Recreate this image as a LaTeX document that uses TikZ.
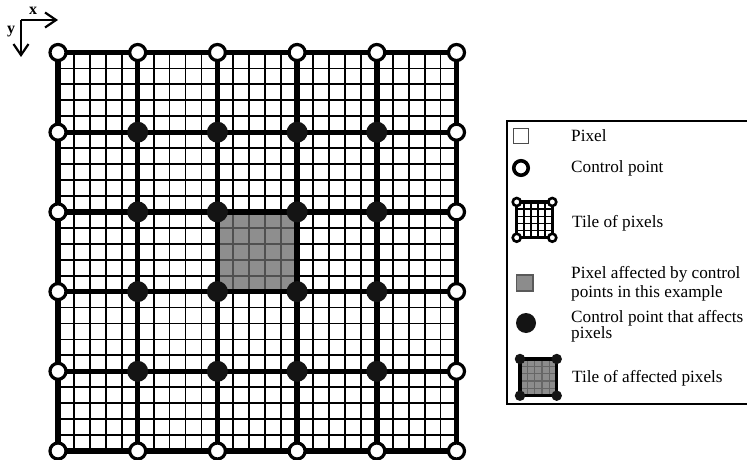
\documentclass[tikz,border=0pt]{standalone}
\usepackage{fontspec}
\setmainfont{Liberation Serif}
\usetikzlibrary{arrows.meta}
\definecolor{affgray}{RGB}{106,106,106}
\definecolor{leggray}{RGB}{140,140,140}
\tikzset{
  thickline/.style={line width=5.4pt, line cap=rect},
  thinline/.style={line width=1.8pt},
  cpw/.style={circle, draw=black, fill=white, line width=3.2pt, inner sep=0pt, minimum size=16pt},
  cpb/.style={circle, fill=black!92, inner sep=0pt, minimum size=21pt},
  smallcpw/.style={circle, draw=black, fill=white, line width=2.6pt, inner sep=0pt, minimum size=8pt},
  smallcpb/.style={circle, fill=black!92, inner sep=0pt, minimum size=10.5pt},
  legtext/.style={anchor=base west, inner sep=0pt, font=\fontsize{17.2}{20}\selectfont},
  axislabel/.style={inner sep=0pt, font=\fontsize{16}{16}\selectfont\bfseries},
  axisarrow/.style={line width=2.2pt, -{Straight Barb[length=11pt, width=15pt, line width=2.2pt]}}
}
\begin{document}
\begin{tikzpicture}[x=1pt, y=-1pt]
\useasboundingbox (0,0) rectangle (747,460);
% axes
\coordinate (ax-o) at (21,20);
\coordinate (ax-x) at (58,20);
\coordinate (ax-y) at (21,57);
\draw[axisarrow] (ax-o) -- (ax-x);
\draw[axisarrow] (ax-o) -- (ax-y);
\node[axislabel] (lab-x) at (33,11) {x};
\node[axislabel] (lab-y) at (11,32) {y};
% grid coordinates
\foreach \i in {0,...,5}{
  \foreach \j in {0,...,5}{
    \coordinate (g-\i-\j) at ({58+\i*79.7},{52.5+\j*79.7});
  }
}
% thin pixel lines
\foreach \k in {0,...,25}{
  \draw[thinline] ({58+\k*15.94},52.5) -- ({58+\k*15.94},451);
  \draw[thinline] (58,{52.5+\k*15.94}) -- (456.5,{52.5+\k*15.94});
}
% affected tile
\fill[affgray, fill opacity=0.757] (g-2-2) rectangle (g-3-3);
% thick tile lines
\foreach \i in {0,...,5}{
  \draw[thickline] (g-\i-0) -- (g-\i-5);
  \draw[thickline] (g-0-\i) -- (g-5-\i);
}
% control points
\foreach \i in {0,5}{
  \foreach \j in {0,...,5}{
    \node[cpw] (cp-\i-\j) at (g-\i-\j) {};
  }
}
\foreach \i in {1,...,4}{
  \foreach \j in {0,5}{
    \node[cpw] (cp-\i-\j) at (g-\i-\j) {};
  }
}
\foreach \i in {1,...,4}{
  \foreach \j in {1,...,4}{
    \node[cpb] (cp-\i-\j) at (g-\i-\j) {};
  }
}
% legend frame
\draw[line width=1.5pt] (749,121) -- (507,121) -- (507,404) -- (749,404);
% pixel
\draw[line width=1pt, draw=black!70, fill=white] (513.5,128) rectangle (528.5,143);
\node[legtext] (t-pixel) at (571,141) {Pixel};
% control point
\node[circle, draw=black, fill=white, line width=3.6pt, inner sep=0pt, minimum size=14.5pt] (leg-cp) at (521,168) {};
\node[legtext] (t-cp) at (571,172) {Control point};
% tile of pixels
\foreach \k in {1,...,4}{
  \draw[line width=1.4pt] ({516.7+\k*7.12},202) -- ({516.7+\k*7.12},237.7);
  \draw[line width=1.4pt] (516.7,{202+\k*7.14}) -- (552.3,{202+\k*7.14});
}
\draw[line width=3.2pt] (516.7,202) rectangle (552.3,237.7);
\node[smallcpw] (lt-a) at (516.7,202) {};
\node[smallcpw] (lt-b) at (552.3,202) {};
\node[smallcpw] (lt-c) at (516.7,237.7) {};
\node[smallcpw] (lt-d) at (552.3,237.7) {};
\node[legtext] (t-tile) at (572,227) {Tile of pixels};
% affected pixel
\draw[line width=1.2pt, draw=black!65, fill=leggray] (516.5,275) rectangle (533,291);
\node[legtext] (t-aff1) at (571,278) {Pixel affected by control};
\node[legtext] (t-aff2) at (571,297) {points in this example};
% control point that affects
\node[circle, fill=black!92, inner sep=0pt, minimum size=20pt] (leg-cpb) at (526,323) {};
\node[legtext] (t-cpb1) at (571,322) {Control point that affects};
\node[legtext] (t-cpb2) at (571,338) {pixels};
% tile of affected pixels
\fill[leggray] (520,359) rectangle (556.7,395.7);
\foreach \k in {1,...,4}{
  \draw[line width=1.3pt, draw=black!60] ({520+\k*7.34},359) -- ({520+\k*7.34},395.7);
  \draw[line width=1.3pt, draw=black!60] (520,{359+\k*7.34}) -- (556.7,{359+\k*7.34});
}
\draw[line width=3.2pt] (520,359) rectangle (556.7,395.7);
\node[smallcpb] (la-a) at (520,359) {};
\node[smallcpb] (la-b) at (556.7,359) {};
\node[smallcpb] (la-c) at (520,395.7) {};
\node[smallcpb] (la-d) at (556.7,395.7) {};
\node[legtext] (t-atile) at (572,382) {Tile of affected pixels};
\end{tikzpicture}
\end{document}
